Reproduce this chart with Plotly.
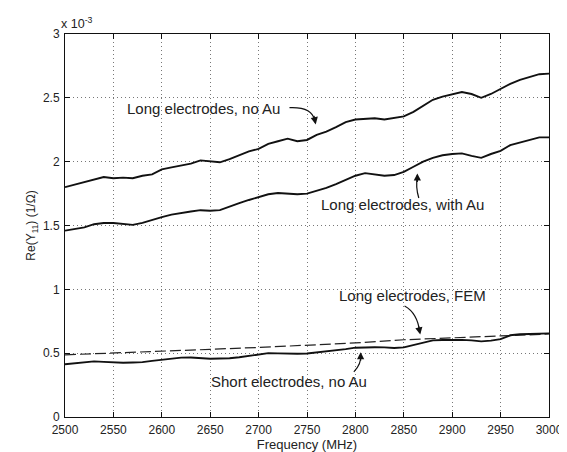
import plotly.graph_objects as go

freq = [2500, 2510, 2520, 2530, 2540, 2550, 2560, 2570, 2580, 2590,
        2600, 2610, 2620, 2630, 2640, 2650, 2660, 2670, 2680, 2690,
        2700, 2710, 2720, 2730, 2740, 2750, 2760, 2770, 2780, 2790,
        2800, 2810, 2820, 2830, 2840, 2850, 2860, 2870, 2880, 2890,
        2900, 2910, 2920, 2930, 2940, 2950, 2960, 2970, 2980, 2990, 3000]

# Re(Y11) in units of 1e-3 (1/Ohm)
long_no_au = [1.80, 1.82, 1.84, 1.86, 1.88, 1.87, 1.875, 1.87, 1.89, 1.90,
              1.94, 1.955, 1.97, 1.985, 2.01, 2.00, 1.995, 2.02, 2.05, 2.08,
              2.10, 2.14, 2.16, 2.18, 2.16, 2.17, 2.21, 2.235, 2.27, 2.31,
              2.33, 2.335, 2.34, 2.33, 2.34, 2.355, 2.39, 2.44, 2.485, 2.51,
              2.53, 2.545, 2.53, 2.50, 2.53, 2.57, 2.61, 2.64, 2.665, 2.685, 2.69]

long_with_au = [1.46, 1.47, 1.485, 1.51, 1.52, 1.52, 1.51, 1.505, 1.52, 1.545,
                1.565, 1.585, 1.60, 1.61, 1.62, 1.615, 1.62, 1.65, 1.675, 1.70,
                1.725, 1.745, 1.755, 1.75, 1.745, 1.75, 1.77, 1.795, 1.825, 1.86,
                1.89, 1.91, 1.90, 1.89, 1.895, 1.92, 1.96, 2.00, 2.03, 2.05,
                2.06, 2.065, 2.045, 2.03, 2.06, 2.085, 2.13, 2.15, 2.175, 2.19, 2.19]

short_no_au = [0.413, 0.42, 0.43, 0.436, 0.432, 0.428, 0.425, 0.427, 0.43, 0.44,
               0.45, 0.458, 0.465, 0.466, 0.46, 0.456, 0.458, 0.46, 0.468, 0.478,
               0.49, 0.50, 0.498, 0.495, 0.495, 0.497, 0.505, 0.513, 0.52, 0.532,
               0.543, 0.547, 0.546, 0.545, 0.54, 0.545, 0.565, 0.585, 0.60, 0.603,
               0.605, 0.604, 0.60, 0.592, 0.598, 0.61, 0.64, 0.648, 0.65, 0.652, 0.655]

fem_freq = [2500, 2550, 2600, 2650, 2700, 2750, 2800, 2850, 2900, 2950, 3000]
long_fem = [0.487, 0.50, 0.515, 0.53, 0.545, 0.56, 0.58, 0.605, 0.62, 0.636, 0.65]

x_ticks = [2500, 2550, 2600, 2650, 2700, 2750, 2800, 2850, 2900, 2950, 3000]
y_ticks = [0, 0.5, 1, 1.5, 2, 2.5, 3]
y_tick_text = ["0", "0.5", "1", "1.5", "2", "2.5", "3"]

labels = ["Long electrodes, no Au", "Long electrodes, with Au",
          "Long electrodes, FEM", "Short electrodes, no Au"]

FONT = "Liberation Sans, Arial, sans-serif"

fig = go.Figure()
fig.add_trace(go.Scatter(x=fem_freq, y=long_fem, mode="lines",
                         line=dict(color="#222", width=1.2, dash="11px,4px")))
for ys in (long_no_au, long_with_au, short_no_au):
    fig.add_trace(go.Scatter(x=freq, y=ys, mode="lines",
                             line=dict(color="#111", width=1.9)))

# curved arrow bodies
paths = [
    "M 2731.9,2.423 Q 2755,2.431 2758.1,2.323",
    "M 2865.5,1.715 Q 2862,1.80 2864,1.89",
    "M 2850.8,0.869 Q 2864,0.815 2866.5,0.665",
    "M 2798.4,0.354 Q 2806.5,0.415 2805.4,0.49",
]
for p in paths:
    fig.add_shape(type="path", path=p, xref="x", yref="y",
                  line=dict(color="#111", width=1.2))

# arrow heads (tip, offset of tail in px)
heads = [
    (2759.0, 2.292, -2, -10),
    (2864.0, 1.908, 0, 10),
    (2867.0, 0.646, -2, -10),
    (2805.4, 0.508, 0, 10),
]
for (hx, hy, ax, ay) in heads:
    fig.add_annotation(x=hx, y=hy, ax=ax, ay=ay, text="", showarrow=True,
                       arrowhead=2, arrowsize=1.2, arrowwidth=1.2,
                       arrowcolor="#111", standoff=0)

label_pos = [(2643.5, 2.415), (2848.8, 1.662), (2858.9, 0.954), (2731.9, 0.277)]
for t, (lx, ly) in zip(labels, label_pos):
    fig.add_annotation(x=lx, y=ly, text=t, showarrow=False, xanchor="center",
                       yanchor="middle", font=dict(family=FONT, size=15, color="#222"))

fig.add_annotation(xref="paper", yref="paper", x=0.0, y=1.0, xanchor="left",
                   yanchor="bottom", yshift=1, xshift=-6, showarrow=False,
                   text="x 10<sup>-3</sup>",
                   font=dict(family=FONT, size=12.5, color="#222"))

fig.update_layout(
    width=567, height=452,
    margin=dict(l=57, r=14, t=26, b=36),
    paper_bgcolor="white", plot_bgcolor="white",
    showlegend=False,
    font=dict(family=FONT, size=12, color="#222"),
)
fig.update_xaxes(range=[2500, 3000], tickvals=x_ticks, ticks="inside", ticklen=5,
                 tickcolor="#111", showline=True, linecolor="#111", linewidth=1,
                 mirror="ticks", showgrid=True, gridcolor="#777", griddash="1px,3px",
                 gridwidth=1, zeroline=False, ticklabelstandoff=2,
                 title=dict(text="Frequency (MHz)", standoff=1,
                            font=dict(family=FONT, size=13, color="#222")))
fig.update_yaxes(range=[0, 3], tickvals=y_ticks, ticktext=y_tick_text, ticks="inside",
                 ticklen=5, tickcolor="#111", showline=True, linecolor="#111",
                 linewidth=1, mirror="ticks", showgrid=True, gridcolor="#777",
                 griddash="1px,3px", gridwidth=1, zeroline=False, ticklabelstandoff=2,
                 title=dict(text="Re(Y<sub>11</sub>) (1/Ω)", standoff=4,
                            font=dict(family=FONT, size=12, color="#222")))

fig.write_html("out.html")
